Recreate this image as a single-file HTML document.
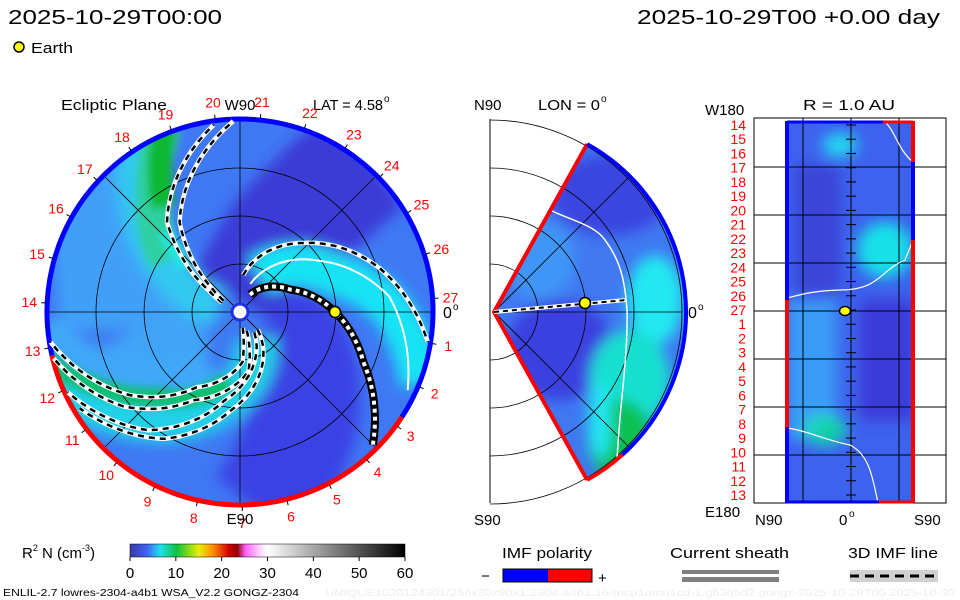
<!DOCTYPE html>
<html><head><meta charset="utf-8"><style>
body{margin:0;background:#fff;}
svg{display:block;font-family:"Liberation Sans",sans-serif;}
</style></head><body>
<svg id="c" width="960" height="600" viewBox="0 0 960 600">
<defs>
<filter id="bl" x="-50%" y="-50%" width="200%" height="200%"><feGaussianBlur stdDeviation="7"/></filter>
<filter id="bl2" x="-50%" y="-50%" width="200%" height="200%"><feGaussianBlur stdDeviation="4"/></filter>
<clipPath id="discClip"><circle cx="240" cy="312" r="193"/></clipPath>
<clipPath id="wedgeClip"><path d="M494,312 L587,145 A192,192 0 0 1 587,479 Z"/></clipPath>
<clipPath id="rectClip"><rect x="787" y="121" width="127" height="382"/></clipPath>
<linearGradient id="cbar" x1="0" x2="1" y1="0" y2="0">
<stop offset="0" stop-color="#3a3aa8"/><stop offset="0.06" stop-color="#4060f0"/><stop offset="0.11" stop-color="#20e0f0"/>
<stop offset="0.17" stop-color="#10c040"/><stop offset="0.25" stop-color="#e8f000"/><stop offset="0.3" stop-color="#ff9000"/>
<stop offset="0.36" stop-color="#d00000"/><stop offset="0.39" stop-color="#900000"/><stop offset="0.42" stop-color="#ff60ff"/>
<stop offset="0.47" stop-color="#ffd0ff"/><stop offset="0.5" stop-color="#ffffff"/><stop offset="0.68" stop-color="#a0a0a0"/>
<stop offset="1" stop-color="#000000"/></linearGradient>
</defs>

<text x="8" y="24" font-size="20" textLength="214" lengthAdjust="spacingAndGlyphs">2025-10-29T00:00</text>
<text x="637" y="24" font-size="20" textLength="303" lengthAdjust="spacingAndGlyphs">2025-10-29T00 +0.00 day</text>
<circle cx="19" cy="47" r="5" fill="#ffff00" stroke="#000" stroke-width="1.5"/>
<text x="31" y="53" font-size="15" textLength="42" lengthAdjust="spacingAndGlyphs">Earth</text>

<g id="disc">
<text x="61" y="110" font-size="15" textLength="106" lengthAdjust="spacingAndGlyphs">Ecliptic Plane</text>
<text x="313" y="110" font-size="15" textLength="70" lengthAdjust="spacingAndGlyphs">LAT = 4.58</text>
<text x="384" y="102" font-size="10">o</text>
<g clip-path="url(#discClip)" id="discField"></g>
<g id="discGrid"></g>
<g id="discArms"></g>
<g id="discLabels"></g>
</g>

<g id="mid">
<text x="474" y="110" font-size="15">N90</text>
<text x="538" y="110" font-size="15" textLength="62" lengthAdjust="spacingAndGlyphs">LON = 0</text>
<text x="601" y="102" font-size="10">o</text>
<text x="474" y="525" font-size="15">S90</text>
<text x="688" y="318" font-size="16">0</text>
<text x="698" y="310" font-size="10">o</text>
<g clip-path="url(#wedgeClip)" id="midField"></g>
<g id="midGrid"></g>
</g>

<g id="right">
<text x="803" y="110" font-size="15" textLength="92" lengthAdjust="spacingAndGlyphs">R = 1.0 AU</text>
<text x="705" y="115" font-size="15">W180</text>
<text x="705" y="517" font-size="15">E180</text>
<text x="755" y="525" font-size="15">N90</text>
<text x="839" y="525" font-size="15">0</text>
<text x="849" y="517" font-size="10">o</text>
<text x="914" y="525" font-size="15">S90</text>
<g clip-path="url(#rectClip)" id="rightField"></g>
<g id="rightGrid"></g>
</g>

<g id="legendArea">
<text x="22" y="558" font-size="15">R<tspan font-size="9" dy="-7">2</tspan><tspan dy="7"> N (cm</tspan><tspan font-size="9" dy="-7">-3</tspan><tspan dy="7">)</tspan></text>
<rect x="130" y="544" width="275" height="13" fill="url(#cbar)" stroke="#000" stroke-width="0.5"/>
<g id="cbarTicks"></g>
<text x="502" y="558" font-size="15" textLength="90" lengthAdjust="spacingAndGlyphs">IMF polarity</text>
<text x="481" y="581" font-size="15">−</text>
<rect x="503" y="569" width="45" height="13" fill="#0000ff"/>
<rect x="548" y="569" width="44" height="13" fill="#ff0000"/>
<rect x="503" y="569" width="89" height="13" fill="none" stroke="#000" stroke-width="1"/>
<text x="598" y="583" font-size="15">+</text>
<text x="670" y="558" font-size="15" textLength="119" lengthAdjust="spacingAndGlyphs">Current sheath</text>
<rect x="682" y="570" width="97" height="4" fill="#808080"/>
<rect x="682" y="577" width="97" height="5" fill="#808080"/>
<text x="848" y="558" font-size="15" textLength="90" lengthAdjust="spacingAndGlyphs">3D IMF line</text>
<rect x="850" y="570" width="88" height="12" fill="#d0d0d0"/>
<line x1="850" y1="576" x2="938" y2="576" stroke="#000" stroke-width="3" stroke-dasharray="9,6"/>
<text x="3" y="596" font-size="10" textLength="296" lengthAdjust="spacingAndGlyphs">ENLIL-2.7 lowres-2304-a4b1 WSA_V2.2 GONGZ-2304</text>
<text x="325" y="596" font-size="10" fill="#eeeeee" textLength="630" lengthAdjust="spacingAndGlyphs">UNIQUE1030124301/256x30x90x1.2304-a4b1.16-mcp1umn1cd-1.g53q5d2.gongz-2025-10-29T00   2025-10-30</text>
</g>
</svg>
<script>
// ---- data ----
var cbarTicks=[0,10,20,30,40,50,60];
var dayLabels=[1,2,3,4,5,6,7,8,9,10,11,12,13,14,15,16,17,18,19,20,21,22,23,24,25,26,27];
var rightLabels=[14,15,16,17,18,19,20,21,22,23,24,25,26,27,1,2,3,4,5,6,7,8,9,10,11,12,13];
var earthAngle=0, earthR=95;
// arms: [radius px, angle deg]
var armA1=[[20,152],[36,146],[116,129],[189,98]];
var armA2=[[20,145],[36,140],[108,124],[191,92]];
var armB=[[20,60],[55,24],[95,0],[133,-22],[188,-45]];
var armC=[[37,85],[96,46],[147,17],[190,-9]];
var armD1=[[16,-80],[50,-87],[87,-120],[138,-143],[192,-171]];
var armD2=[[20,-70],[60,-82],[100,-118],[150,-141],[192,-166]];
var armE1=[[25,-45],[100,-96],[148,-121],[187,-149]];
var armE2=[[25,-55],[90,-100],[150,-128],[190,-155]];
var sheathLine=[[30,70],[96,32],[150,6],[185,-25]];

var NS='http://www.w3.org/2000/svg';
function mk(tag,attrs,parent){var e=document.createElementNS(NS,tag);for(var k in attrs)e.setAttribute(k,attrs[k]);parent.appendChild(e);return e;}
var CX=240,CY=312,R=193;
function px(r,a){var t=a*Math.PI/180;return [CX+r*Math.cos(t),CY-r*Math.sin(t)];}
function armPath(pts){
  var out=[];
  for(var i=0;i<pts.length-1;i++){
    for(var s=0;s<10;s++){var f=s/10;var r=pts[i][0]+(pts[i+1][0]-pts[i][0])*f;var a=pts[i][1]+(pts[i+1][1]-pts[i][1])*f;out.push(px(r,a));}
  }
  var l=pts[pts.length-1];out.push(px(l[0],l[1]));
  return 'M'+out.map(function(p){return p[0].toFixed(1)+','+p[1].toFixed(1);}).join(' L');
}
// ---- disc field ----
var F=document.getElementById('discField');
var bg=mk('circle',{cx:CX,cy:CY,r:R,fill:'#3f78f4'},F);


var fg=mk('g',{filter:'url(#bl)'},F);
mk('path',{d:'M50,200 L150,130 L180,330 L60,330 Z',fill:'#3fa0f8'},fg);
mk('path',{d:armPath([[10,60],[80,60],[130,55],[200,50]]),stroke:'#3a3ad6',"stroke-width":120,fill:'none'},fg);
mk('path',{d:armPath([[30,-20],[90,-45],[150,-70],[200,-85]]),stroke:'#3a42e4',"stroke-width":110,fill:'none'},fg);
mk('path',{d:armPath([[40,200],[140,205],[200,210]]),stroke:'#40a4f8',"stroke-width":50,fill:'none'},fg);
mk('path',{d:armPath([[20,170],[80,150],[140,135],[200,120]]),stroke:'#30c8f0',"stroke-width":40,fill:'none'},fg);
mk('path',{d:armPath([[40,62],[100,22],[150,2],[195,-22]]),stroke:'#18e4f4',"stroke-width":42,fill:'none'},fg);
mk('path',{d:armPath([[30,-60],[90,-100],[150,-135],[200,-160]]),stroke:'#20d0e8',"stroke-width":44,fill:'none'},fg);
mk('path',{d:armPath([[60,-120],[130,-150],[200,-175]]),stroke:'#40a8f8',"stroke-width":40,fill:'none'},fg);
var fg2=mk('g',{filter:'url(#bl2)'},F);
mk('path',{d:armPath([[70,-100],[120,-135],[160,-152],[200,-166]]),stroke:'#10c070',"stroke-width":18,fill:'none'},fg2);
mk('path',{d:armPath([[90,145],[140,128],[170,120],[200,112]]),stroke:'#2fd0a0',"stroke-width":34,fill:'none'},fg2);
mk('path',{d:armPath([[130,126],[170,118],[200,112]]),stroke:'#10b830',"stroke-width":24,fill:'none'},fg2);
mk('path',{d:armPath([[70,140],[110,133]]),stroke:'#20e8e0',"stroke-width":14,fill:'none'},fg2);
// ---- grid ----
var G=document.getElementById('discGrid');
[48,96,144].forEach(function(r){mk('circle',{cx:CX,cy:CY,r:r,fill:'none',stroke:'#000','stroke-width':0.8},G);});
[0,45,90,135].forEach(function(a){var p1=px(R,a),p2=px(R,a+180);mk('line',{x1:p1[0],y1:p1[1],x2:p2[0],y2:p2[1],stroke:'#000','stroke-width':0.8},G);});
function arc(r,a1,a2){var p1=px(r,a1),p2=px(r,a2);var large=Math.abs(a2-a1)>180?1:0;return 'M'+p1[0]+','+p1[1]+' A'+r+','+r+' 0 '+large+' 0 '+p2[0]+','+p2[1];}
var bb=mk('path',{d:arc(R,-33,193),stroke:'#0000ff','stroke-width':5,fill:'none'},G);


var br=mk('path',{d:arc(R,-167,-33),stroke:'#ff0000','stroke-width':5,fill:'none'},G);


var sun=mk('circle',{cx:CX,cy:CY,r:8,fill:'#fff',stroke:'#2030e0','stroke-width':3},G);


// ---- arms ----
var A=document.getElementById('discArms');
mk('path',{d:armPath(sheathLine),stroke:'#fff','stroke-width':2,fill:'none'},A);
[armA1,armA2,armC,armD1,armD2,armE1,armE2].forEach(function(pts){
  var g=mk('g',{},A);
  mk('path',{d:armPath(pts),stroke:'#fff','stroke-width':4.5,fill:'none'},g);
  mk('path',{d:armPath(pts),stroke:'#000','stroke-width':2.5,fill:'none','stroke-dasharray':'6,5'},g);
  
  
});
var gB=mk('g',{},A);
mk('path',{d:armPath(armB),stroke:'#000','stroke-width':8,fill:'none'},gB);
mk('path',{d:armPath(armB),stroke:'#fff','stroke-width':4,fill:'none','stroke-dasharray':'4,4'},gB);


var ep=px(earthR,earthAngle);
var e1=mk('circle',{cx:ep[0],cy:ep[1],r:5.5,fill:'#ffff00',stroke:'#000','stroke-width':1.5},A);


// ---- labels ----
var L=document.getElementById('discLabels');
dayLabels.forEach(function(d){
  var a=4-d*360/27; var p=px(211,a); var tk1=px(R+2,a),tk2=px(R+6,a);
  mk('line',{x1:tk1[0],y1:tk1[1],x2:tk2[0],y2:tk2[1],stroke:'#000','stroke-width':1},L);
  var t=mk('text',{x:p[0],y:p[1]+5,'font-size':14,fill:'#ff0000','text-anchor':'middle'},L);
  t.textContent=d;
  
  
});
var t1=mk('text',{x:240,y:110,'font-size':15,'text-anchor':'middle',fill:'#000'},L);t1.textContent='W90';


var t2=mk('text',{x:240,y:524,'font-size':15,'text-anchor':'middle',fill:'#000'},L);t2.textContent='E90';


var t3=mk('text',{x:443,y:318,'font-size':16,fill:'#000'},L);t3.textContent='0';


mk('text',{x:453,y:310,'font-size':10},L).textContent='o';

// ---- middle panel ----
var MX=494,MY=312;
function mp(r,a){var t=a*Math.PI/180;return [MX+r*Math.cos(t),MY-r*Math.sin(t)];}
var MF=document.getElementById('midField');
mk('rect',{x:490,y:110,width:200,height:400,fill:'#4078f2'},MF);
var mg=mk('g',{filter:'url(#bl)'},MF);
mk('ellipse',{cx:560,cy:350,rx:55,ry:50,fill:'#3a40e0'},mg);
mk('ellipse',{cx:610,cy:195,rx:60,ry:40,fill:'#3a44e0'},mg);
mk('ellipse',{cx:540,cy:260,rx:35,ry:40,fill:'#3f96f6'},mg);
mk('ellipse',{cx:655,cy:300,rx:28,ry:45,fill:'#20e8f0'},mg);
mk('ellipse',{cx:630,cy:380,rx:40,ry:50,fill:'#18e0d0'},mg);
mk('ellipse',{cx:620,cy:440,rx:32,ry:40,fill:'#10c050'},mg);
mk('ellipse',{cx:600,cy:420,rx:12,ry:40,fill:'#20e8f0'},mg);
var MG=document.getElementById('midGrid');
[48,96,144,192].forEach(function(r){mk('path',{d:'M490,'+(MY-r)+' A'+r+','+r+' 0 0 1 490,'+(MY+r),fill:'none',stroke:'#000','stroke-width':0.8},MG);});
mk('line',{x1:490,y1:119,x2:490,y2:503,stroke:'#000','stroke-width':1},MG);
mk('line',{x1:MX,y1:MY,x2:682,y2:MY,stroke:'#000','stroke-width':0.8},MG);
[45,-45].forEach(function(a){var p=mp(192,a);mk('line',{x1:MX,y1:MY,x2:p[0],y2:p[1],stroke:'#000','stroke-width':0.8},MG);});
mk('path',{d:'M550,210 C570,220 595,225 605,240 C620,260 625,280 627,310 C628,360 620,400 617,460',fill:'none',stroke:'#fff','stroke-width':1.5},MG);
var mu=mp(192,61),ml=mp(192,-61);
mk('path',{d:'M'+mu[0]+','+mu[1]+' L'+MX+','+MY+' L'+ml[0]+','+ml[1],fill:'none',stroke:'#ff0000','stroke-width':4},MG);
mk('path',{d:'M'+mu[0]+','+mu[1]+' A192,192 0 0 1 '+mp(192,-48).join(','),fill:'none',stroke:'#0000ff','stroke-width':4},MG);
mk('path',{d:'M'+mp(192,-48).join(',')+' A192,192 0 0 1 '+ml.join(','),fill:'none',stroke:'#ff0000','stroke-width':4},MG);
mk('line',{x1:MX,y1:MY,x2:626,y2:300,stroke:'#fff','stroke-width':4},MG);
mk('line',{x1:MX,y1:MY,x2:626,y2:300,stroke:'#000','stroke-width':2,'stroke-dasharray':'5,4'},MG);
var e2=mk('circle',{cx:585,cy:303,r:5.5,fill:'#ffff00',stroke:'#000','stroke-width':1.5},MG);



// ---- right panel ----
var RF=document.getElementById('rightField');
mk('rect',{x:787,y:121,width:127,height:382,fill:'#3d62ee'},RF);
var rg=mk('g',{filter:'url(#bl)'},RF);
mk('rect',{x:787,y:300,width:50,height:140,fill:'#3a9cf6'},rg);
mk('rect',{x:860,y:300,width:54,height:120,fill:'#3a3ad8'},rg);
mk('ellipse',{cx:885,cy:250,rx:28,ry:28,fill:'#18e0e8'},rg);
mk('ellipse',{cx:840,cy:145,rx:18,ry:12,fill:'#20d8f0'},rg);
mk('ellipse',{cx:825,cy:430,rx:22,ry:16,fill:'#18d8c0'},rg);
mk('ellipse',{cx:830,cy:432,rx:8,ry:6,fill:'#10c070'},rg);
mk('rect',{x:795,y:165,width:45,height:130,fill:'#3a44d8'},rg);
var RG=document.getElementById('rightGrid');
mk('rect',{x:754,y:118,width:192,height:385,fill:'none',stroke:'#000','stroke-width':1},RG);
[167,215,263,311,359,407,455].forEach(function(y){mk('line',{x1:754,y1:y,x2:946,y2:y,stroke:'#000','stroke-width':1},RG);});
[803,851,899].forEach(function(x){mk('line',{x1:x,y1:118,x2:x,y2:503,stroke:'#000','stroke-width':1},RG);});
mk('path',{d:'M787,298 C800,295 810,291 840,290 C880,290 880,270 905,260 L913,240',fill:'none',stroke:'#fff','stroke-width':1.2},RG);
mk('path',{d:'M787,428 C805,430 825,440 850,445 C870,455 873,480 878,503',fill:'none',stroke:'#fff','stroke-width':1.2},RG);
mk('path',{d:'M884,121 C895,130 898,150 913,162',fill:'none',stroke:'#fff','stroke-width':1.2},RG);
mk('line',{x1:787,y1:121,x2:787,y2:300,stroke:'#0000ff','stroke-width':4},RG);
mk('line',{x1:787,y1:300,x2:787,y2:427,stroke:'#ff0000','stroke-width':4},RG);
mk('line',{x1:787,y1:427,x2:787,y2:503,stroke:'#0000ff','stroke-width':4},RG);
mk('line',{x1:913,y1:121,x2:913,y2:162,stroke:'#ff0000','stroke-width':4},RG);
mk('line',{x1:913,y1:162,x2:913,y2:240,stroke:'#0000ff','stroke-width':4},RG);
mk('line',{x1:913,y1:240,x2:913,y2:503,stroke:'#ff0000','stroke-width':4},RG);
mk('line',{x1:787,y1:122,x2:883,y2:122,stroke:'#0000ff','stroke-width':3},RG);
mk('line',{x1:883,y1:122,x2:913,y2:122,stroke:'#ff0000','stroke-width':3},RG);
mk('line',{x1:787,y1:502,x2:879,y2:502,stroke:'#0000ff','stroke-width':3},RG);
mk('line',{x1:879,y1:502,x2:913,y2:502,stroke:'#ff0000','stroke-width':3},RG);
rightLabels.forEach(function(d,i){
  var y=125+i*(370/26);
  mk('line',{x1:846,y1:y,x2:856,y2:y,stroke:'#000','stroke-width':1},RG);
  var t=mk('text',{x:746,y:y+5,'font-size':14,fill:'#ff0000','text-anchor':'end'},RG);
  t.textContent=d;
  
  
});
var e3=mk('ellipse',{cx:845,cy:311,rx:5.5,ry:4.5,fill:'#ffff00',stroke:'#000','stroke-width':1.5},RG);



// ---- colorbar ticks ----
var CT=document.getElementById('cbarTicks');
cbarTicks.forEach(function(v){
  var x=130+v/60*275;
  mk('line',{x1:x,y1:557,x2:x,y2:561,stroke:'#000'},CT);
  var t=mk('text',{x:x,y:578,'font-size':15,'text-anchor':'middle'},CT);
  t.textContent=v;
  
  
});
</script>
</body></html>
